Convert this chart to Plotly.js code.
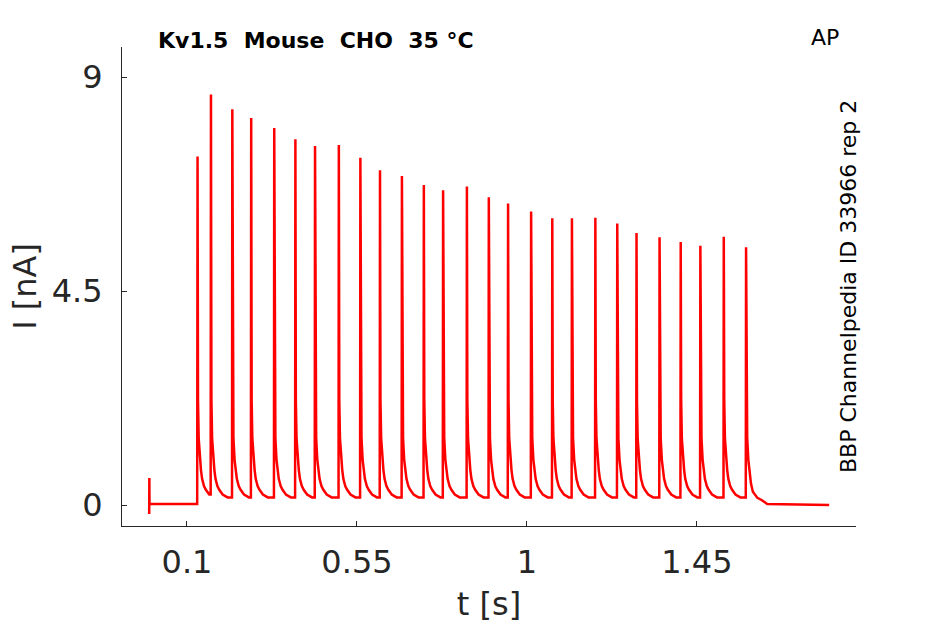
<!DOCTYPE html>
<html>
<head>
<meta charset="utf-8">
<script src="https://cdn.plot.ly/plotly-3.0.1.min.js"></script>
<style>html,body{margin:0;padding:0;background:#fff;}#chart{width:945px;height:624px;}</style>
</head>
<body>
<div id="chart"></div>
<script>
// Spike times (s) and peak currents (nA)
const spikeTimes = [0.128, 0.1635, 0.220, 0.270, 0.331, 0.387, 0.439, 0.502, 0.559, 0.611,
  0.669, 0.727, 0.778, 0.841, 0.899, 0.950, 1.011, 1.067, 1.119, 1.181,
  1.239, 1.290, 1.351, 1.407, 1.459, 1.521, 1.580];
const spikePeaks = [7.33, 8.63, 8.32, 8.14, 7.93, 7.69, 7.55, 7.57, 7.30, 7.04,
  6.92, 6.73, 6.62, 6.70, 6.47, 6.34, 6.17, 6.03, 6.03, 6.04,
  5.92, 5.72, 5.63, 5.53, 5.45, 5.64, 5.42];
// Decay after each peak: time after peak (s) and current (nA)
const decayDt = [0.0012, 0.003, 0.006, 0.009, 0.012, 0.017, 0.022, 0.031, 0.044];
const decayI  = [2.2, 1.4, 0.95, 0.74, 0.55, 0.40, 0.32, 0.22, 0.16];
// Start of the recording (artifact + baseline)
const introT = [0.0, 0.0004, 0.0008, 0.127];
const introI = [-0.19, 0.57, 0.02, 0.02];
// Tail after the last spike
const tailDt = [0.0012, 0.003, 0.006, 0.009, 0.013, 0.018, 0.030, 0.042, 0.056, 0.220];
const tailI  = [2.2, 1.4, 0.95, 0.70, 0.45, 0.28, 0.15, 0.10, 0.02, 0.0];

const xTicks = [0.1, 0.55, 1, 1.45];
const xTickText = ['0.1', '0.55', '1', '1.45'];
const yTicks = [0, 4.5, 9];
const yTickText = ['0', '4.5', '9'];

// Build the trace from the arrays above
const tx = [], ty = [];
for (let k = 0; k < introT.length; k++) { tx.push(introT[k]); ty.push(introI[k]); }
let prev = introI[introI.length - 1];
for (let i = 0; i < spikeTimes.length; i++) {
  const ts = spikeTimes[i];
  tx.push(ts - 0.0008); ty.push(prev);
  tx.push(ts); ty.push(spikePeaks[i]);
  const last = i === spikeTimes.length - 1;
  if (last) {
    for (let k = 0; k < tailDt.length; k++) { tx.push(ts + tailDt[k]); ty.push(tailI[k]); }
  } else {
    const next = spikeTimes[i + 1];
    for (let k = 0; k < decayDt.length; k++) {
      if (ts + decayDt[k] < next - 0.0015) { tx.push(ts + decayDt[k]); ty.push(decayI[k]); prev = decayI[k]; }
    }
  }
}

const FONT = 'DejaVu Sans, sans-serif';
const data = [{
  x: tx, y: ty, type: 'scatter', mode: 'lines',
  line: {color: '#ff0000', width: 2.5},
  hoverinfo: 'skip', showlegend: false
}];

const layout = {
  width: 945, height: 624,
  margin: {l: 122, r: 89, t: 47, b: 98, pad: 0},
  paper_bgcolor: '#ffffff', plot_bgcolor: '#ffffff',
  font: {family: FONT, color: '#262626'},
  showlegend: false,
  xaxis: {
    range: [-0.072, 1.871], showgrid: false, zeroline: false,
    showline: true, linecolor: '#262626', linewidth: 1, mirror: false,
    ticks: 'inside', ticklen: 5, tickcolor: '#262626', tickwidth: 1,
    tickvals: xTicks, ticktext: xTickText,
    tickfont: {family: FONT, size: 32, color: '#262626'},
    ticklabelstandoff: 8,
    title: {text: 't [s]', font: {family: FONT, size: 32, color: '#262626'}, standoff: 12}
  },
  yaxis: {
    range: [-0.4416, 9.631], showgrid: false, zeroline: false,
    showline: true, linecolor: '#262626', linewidth: 1, mirror: false,
    ticks: 'inside', ticklen: 5, tickcolor: '#262626', tickwidth: 1,
    tickvals: yTicks, ticktext: yTickText,
    tickfont: {family: FONT, size: 32, color: '#262626'},
    ticklabelstandoff: 12,
    title: {text: 'I [nA]', font: {family: FONT, size: 32, color: '#262626'}, standoff: 5}
  },
  annotations: [
    {text: '<b>Kv1.5\u00a0\u00a0Mouse\u00a0\u00a0CHO\u00a0\u00a035\u00a0°C</b>', xref: 'paper', yref: 'paper',
     x: 0.0463, y: 1.0146, xanchor: 'left', yanchor: 'middle', showarrow: false,
     font: {family: FONT, size: 22, color: '#000000'}},
    {text: 'AP', xref: 'paper', yref: 'paper', x: 0.9578, y: 1.019, xanchor: 'center', yanchor: 'middle',
     showarrow: false, font: {family: FONT, size: 22, color: '#000000'}},
    {text: 'BBP Channelpedia ID 33966 rep 2', xref: 'paper', yref: 'paper', x: 0.9905, y: 0.499,
     xanchor: 'center', yanchor: 'middle', textangle: -90, showarrow: false,
     font: {family: FONT, size: 22, color: '#000000'}}
  ]
};

Plotly.newPlot('chart', data, layout, {staticPlot: true, displayModeBar: false});
</script>
</body>
</html>
